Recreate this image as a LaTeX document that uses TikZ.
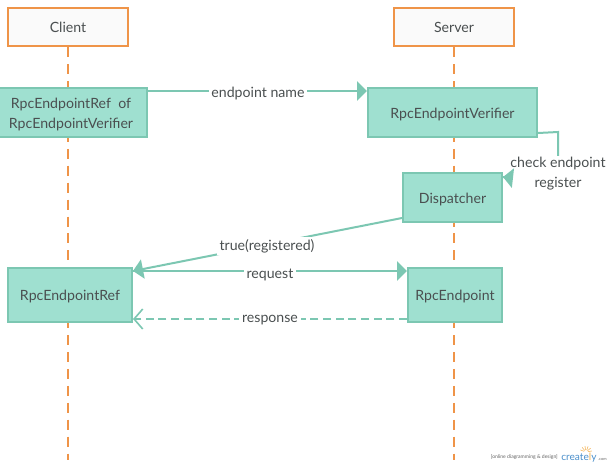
\documentclass[tikz,border=0pt]{standalone}
\usepackage{fontspec}
\setmainfont{Lato}
\usetikzlibrary{arrows.meta}
\definecolor{orangeline}{HTML}{EF9448}
\definecolor{tealfill}{HTML}{9FE0D0}
\definecolor{tealline}{HTML}{7CC7B2}
\definecolor{inkgrey}{HTML}{4A4F50}
\definecolor{logoblue}{HTML}{4A8FCB}
\definecolor{logoorange}{HTML}{F3B04F}
\newcommand{\lowstrut}{\rule{0pt}{10.6pt}}
\tikzset{
 actorbox/.style={draw=orangeline,line width=1.8pt,fill=white!98!black,text=inkgrey,font=\fontsize{10.6pt}{12pt}\selectfont,inner sep=0pt},
 procbox/.style={draw=tealline,line width=1.5pt,fill=tealfill,text=inkgrey,font=\fontsize{10.6pt}{14.5pt}\selectfont,align=center,inner sep=0pt},
 lifeline/.style={draw=orangeline,line width=1.5pt,dash pattern=on 7.5pt off 5.2pt},
 msgline/.style={draw=tealline,line width=1.5pt},
 solidhead/.style={-{Triangle[length=7.5pt,width=14.5pt,fill=tealline]}},
 openhead/.style={-{Straight Barb[length=6.5pt,width=15pt,line width=1.2pt]}},
 msglabel/.style={fill=white,text=inkgrey,font=\fontsize{10.6pt}{14.5pt}\selectfont,align=center,inner sep=2pt},
 sunray/.style={draw=logoorange,line width=0.4pt},
}
\begin{document}
\begin{tikzpicture}[x=0.75pt,y=-0.75pt]
\useasboundingbox (0,0) rectangle (610,465);
\fill[white] (0,0) rectangle (610,465);
\node[actorbox,minimum width=90pt,minimum height=28.5pt] (client) at (68,27) {Client};
\node[actorbox,minimum width=90pt,minimum height=28.5pt] (server) at (454,27) {Server};
\coordinate (clientend) at (68,460);
\coordinate (serverend) at (454,460);
\draw[lifeline] (client.south) -- (clientend);
\draw[lifeline] (server.south) -- (serverend);
\node[procbox,minimum width=114pt,minimum height=36.75pt] (verifierref) at (71,112.5) {\lowstrut RpcEndpointRef\ \ of\\RpcEndpointVerifier};
\node[procbox,minimum width=126.75pt,minimum height=36.75pt] (verifier) at (452.5,112.5) {\lowstrut RpcEndpointVerifier};
\node[procbox,minimum width=74.25pt,minimum height=36.75pt] (dispatcher) at (452.5,197.5) {\lowstrut Dispatcher};
\node[procbox,minimum width=93pt,minimum height=40.5pt] (ref) at (70,295) {\lowstrut RpcEndpointRef};
\node[procbox,minimum width=70.5pt,minimum height=40.5pt] (endpoint) at (455,295) {\lowstrut RpcEndpoint};
% messages
\coordinate (corner) at (558,132);
\coordinate (corner2) at (558,178);
\draw[msgline] ([yshift=3.75pt]verifier.south east) -- (corner) -- (corner2) -- ([yshift=-3.75pt]dispatcher.north east);
\node[msglabel,inner sep=1pt] (check) at (558,173.5) {check endpoint\\register};
\draw[msgline,solidhead] (corner2) ++(-46,0) -- ([yshift=-3.75pt]dispatcher.north east);
\draw[msgline,solidhead] ([yshift=-3pt]verifierref.north east) -- ([yshift=-3pt]verifier.north west);
\node[msglabel] (name) at (258,94) {endpoint name};
\draw[msgline,solidhead] ([yshift=3.75pt]dispatcher.south west) -- ([yshift=-3pt]ref.north east);
\node[msglabel] (registered) at (267,246) {true(registered)};
\draw[msgline,solidhead] ([yshift=-3pt]ref.north east) -- ([yshift=-3pt]endpoint.north west);
\node[msglabel] (request) at (270,274.5) {request};
\draw[msgline,openhead,dash pattern=on 6pt off 3.5pt] ([yshift=3pt]endpoint.south west) -- ([yshift=3pt]ref.south east);
\node[msglabel] (response) at (270,320) {response};
% logo
\node[text=black!60,font=\fontsize{3.8pt}{4pt}\selectfont,inner sep=0pt,anchor=east] (tag) at (558,457) {[online diagramming \& design]};
\node[text=logoblue,font=\fontsize{7.6pt}{10pt}\selectfont,inner sep=0pt,anchor=base west] (logo) at (561,460) {create\textcolor{logoorange}{l}y};
\node[text=black!60,font=\fontsize{3pt}{4pt}\selectfont,inner sep=0pt,anchor=base west] (dotcom) at (598,460) {.com};
\coordinate (sun) at (586,452);
\foreach \a in {20,50,...,170}{\draw[sunray] (sun) ++(\a:-2) -- ++(\a:-4);}
\end{tikzpicture}
\end{document}
